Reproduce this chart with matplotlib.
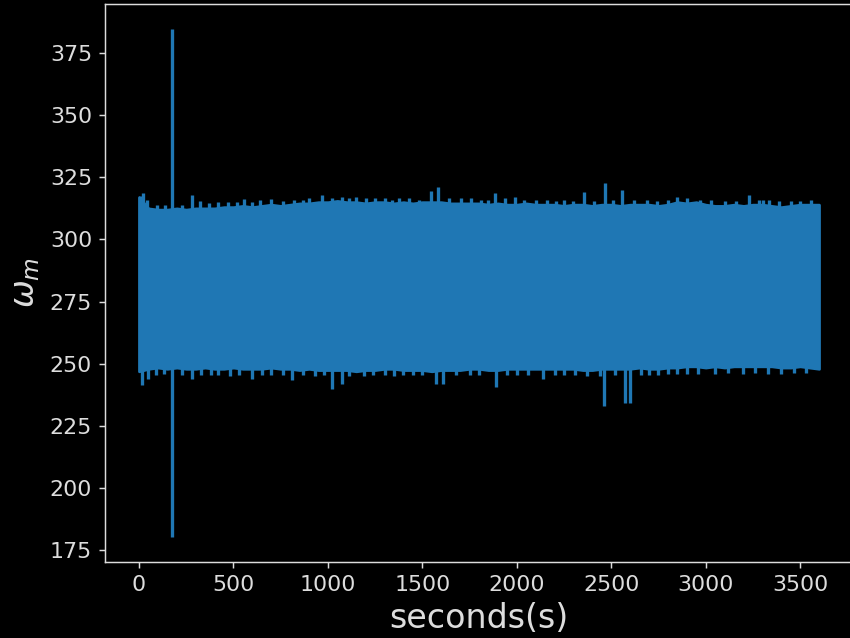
import matplotlib.pyplot as plt

# envelope of the oscillating speed signal, read every 50 s
env_t = list(range(0, 3601, 50))
upper = [317, 312.5, 312, 312, 312.5, 312, 312.5, 312.5, 312.5, 313,
         313, 313.5, 313, 313.5, 314, 313.5, 314, 314.5, 314.5, 315,
         315, 315.5, 315, 315, 314.5, 315, 315, 314.5, 315, 314.5,
         315, 315, 315, 314.5, 314.5, 314.5, 314.5, 314, 314.5, 314,
         314, 314.5, 314, 314, 314, 313.5, 314, 314, 313.5, 314,
         314, 313.5, 314, 314, 314, 313.5, 314, 315, 314.5, 315,
         314, 313.5, 313.5, 314, 313.5, 314, 314, 313.5, 313, 313.5,
         314, 314, 314]
lower = [247, 248, 248.5, 248, 248.5, 248, 248, 248.5, 248, 248,
         248.5, 248, 248, 248, 248.5, 248, 248, 247.5, 248, 247.5,
         247.5, 247.5, 247.5, 247, 247.5, 247.5, 248, 248, 247.5, 247.5,
         247.5, 247, 247.5, 247.5, 247.5, 248, 248, 247.5, 247.5, 248,
         248, 248, 248, 248, 248, 248, 248, 247.5, 247.5, 248,
         248, 248, 248, 248.5, 248, 248, 248.5, 248.5, 249, 249,
         248.5, 249, 248.5, 249, 249, 249, 249, 249, 248.5, 248.5,
         249, 248.5, 248]

# short excursions above / below the band
peak_t = [5, 21, 40, 95, 140, 174, 230, 279, 321, 370, 420, 470, 520, 558,
          600, 640, 700, 760, 821, 870, 900, 968, 1020, 1074, 1110, 1147,
          1200, 1250, 1300, 1340, 1374, 1430, 1480, 1547, 1584, 1640, 1705,
          1758, 1810, 1850, 1884, 1937, 1989, 2040, 2100, 2160, 2210, 2250,
          2300, 2358, 2410, 2468, 2510, 2558, 2621, 2689, 2740, 2800, 2847,
          2900, 2968, 3030, 3100, 3160, 3232, 3280, 3305, 3337, 3390, 3450,
          3500, 3560]
peak_v = [317.5, 318.5, 316, 314, 314, 384.5, 314, 318, 315.5, 314.5, 315,
          315, 315, 316.4, 315, 316, 316.4, 315.5, 316, 316, 316.5, 318, 316.5,
          317, 316.5, 317, 316.5, 316.5, 316.5, 316, 316.5, 316.5, 316, 319.3,
          321.3, 316.5, 316.5, 316.5, 316, 316, 318.8, 316.5, 317, 316, 316,
          316, 315.5, 316, 315.5, 319, 315.5, 322.8, 316, 320, 316, 316, 315.5,
          316, 317, 316.5, 316, 316, 315.5, 315.5, 318, 316, 316, 316, 315.5,
          315.5, 315.5, 316]
dip_t = [16, 47, 90, 130, 174, 230, 279, 330, 380, 420, 480, 530, 600, 650,
         700, 760, 810, 870, 930, 980, 1021, 1074, 1110, 1189, 1240, 1300,
         1350, 1400, 1450, 1500, 1574, 1610, 1680, 1750, 1800, 1889, 1950,
         2000, 2060, 2137, 2200, 2250, 2310, 2374, 2442, 2463, 2520, 2574,
         2600, 2660, 2700, 2750, 2800, 2850, 2900, 2960, 3050, 3120, 3200,
         3260, 3330, 3400, 3470, 3530]
dip_v = [241.3, 244, 245.5, 246, 180.5, 245.5, 244, 245.5, 245.5, 245.5, 245,
         245.5, 244, 245.5, 245.5, 245.5, 243.5, 245.5, 245, 245.5, 240, 242,
         245, 245, 245.5, 245.5, 245, 245.5, 245.5, 245.5, 242, 242, 245.5,
         245.5, 245.5, 240.5, 245.5, 245.5, 245.5, 244, 245.5, 245.5, 245.5,
         245, 245, 233.2, 245.5, 234.4, 234.4, 245.5, 245.5, 245.5, 246, 246,
         246, 246, 246, 246.5, 246, 246.5, 246, 246, 246.5, 246.5]

blue = "#1f77b4"
fg = "#dddddd"

fig = plt.figure(figsize=(6.4, 4.8038), dpi=132.8125, facecolor="black")
ax = fig.add_axes([105 / 850, 1 - 562 / 638, 748 / 850, 558 / 638])
ax.set_facecolor("black")

ax.fill_between(env_t, lower, upper, color=blue, lw=1.5)
ax.vlines(peak_t, 280, peak_v, color=blue, lw=1.8)
ax.vlines(dip_t, 280, dip_v, color=blue, lw=1.8)

ax.set_xlabel("seconds(s)", fontsize=18, color=fg)
ax.set_ylabel(r"$\omega_m$", fontsize=18, color=fg)
ax.tick_params(colors=fg, labelsize=12)
for s in ax.spines.values():
    s.set_color(fg)

fig.savefig("out.png", dpi=132.8125, facecolor="black")
